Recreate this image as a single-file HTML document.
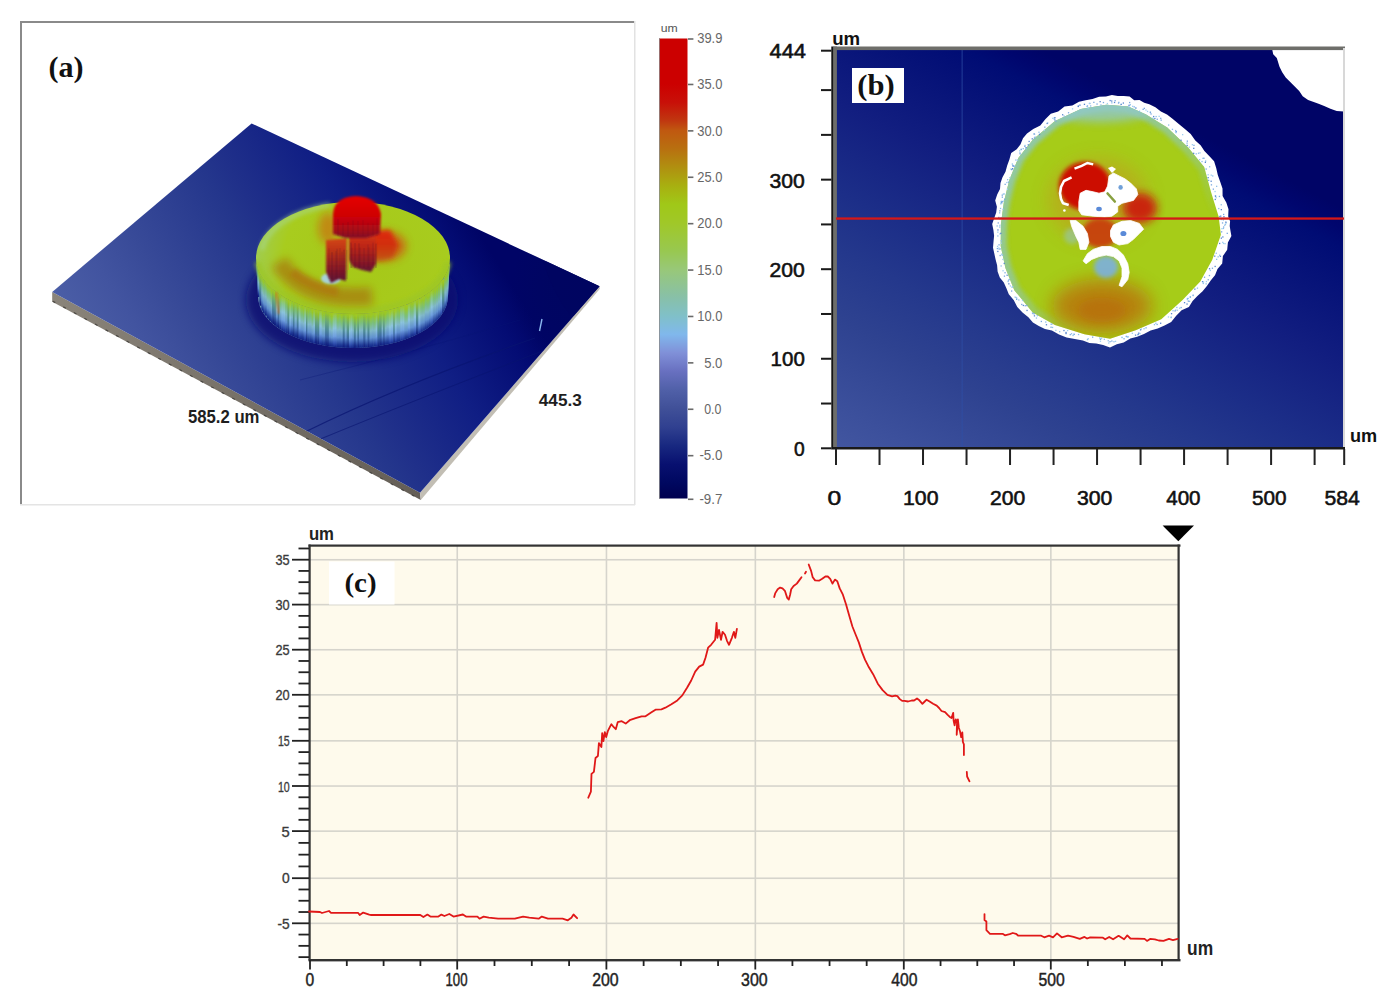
<!DOCTYPE html><html><head><meta charset="utf-8"><style>html,body{margin:0;padding:0;background:#fff;overflow:hidden}svg{display:block}text{font-family:"Liberation Sans",sans-serif}.serif{font-family:"Liberation Serif",serif;font-weight:bold}</style></head><body>
<svg width="1396" height="1007" viewBox="0 0 1396 1007">
<defs>
<linearGradient id="cbar" x1="0" y1="0" x2="0" y2="1"><stop offset="0.0000" stop-color="#cc0000"/><stop offset="0.0988" stop-color="#cc0000"/><stop offset="0.1391" stop-color="#c81008"/><stop offset="0.1794" stop-color="#c03810"/><stop offset="0.1996" stop-color="#c05810"/><stop offset="0.2399" stop-color="#b87010"/><stop offset="0.2802" stop-color="#b09010"/><stop offset="0.3206" stop-color="#a8b010"/><stop offset="0.3609" stop-color="#a0c818"/><stop offset="0.4012" stop-color="#a0c828"/><stop offset="0.4617" stop-color="#98c850"/><stop offset="0.5020" stop-color="#98c878"/><stop offset="0.5625" stop-color="#88c0a8"/><stop offset="0.6028" stop-color="#80c0c8"/><stop offset="0.6431" stop-color="#80b8ec"/><stop offset="0.6835" stop-color="#8090d8"/><stop offset="0.7238" stop-color="#6870c0"/><stop offset="0.7641" stop-color="#5060a8"/><stop offset="0.8044" stop-color="#405098"/><stop offset="0.8448" stop-color="#304090"/><stop offset="0.8851" stop-color="#182880"/><stop offset="0.9254" stop-color="#081070"/><stop offset="0.9657" stop-color="#000860"/><stop offset="1.0000" stop-color="#000050"/></linearGradient>
<filter id="b05" x="-20%" y="-20%" width="140%" height="140%"><feGaussianBlur stdDeviation="0.5"/></filter>
<filter id="b1" x="-20%" y="-20%" width="140%" height="140%"><feGaussianBlur stdDeviation="1"/></filter>
<filter id="b2" x="-30%" y="-30%" width="160%" height="160%"><feGaussianBlur stdDeviation="2.2"/></filter>
<filter id="b4" x="-50%" y="-50%" width="200%" height="200%"><feGaussianBlur stdDeviation="4"/></filter>
<filter id="b6" x="-60%" y="-60%" width="220%" height="220%"><feGaussianBlur stdDeviation="6"/></filter>
<filter id="b8" x="-60%" y="-60%" width="220%" height="220%"><feGaussianBlur stdDeviation="9"/></filter>
<linearGradient id="plate" gradientUnits="userSpaceOnUse" x1="52" y1="292" x2="393" y2="78"><stop offset="0" stop-color="#4b5ea6"/><stop offset="0.13" stop-color="#4254a0"/><stop offset="0.245" stop-color="#384a98"/><stop offset="0.48" stop-color="#24368c"/><stop offset="0.535" stop-color="#20308a"/><stop offset="0.73" stop-color="#101e84"/><stop offset="0.9" stop-color="#040c74"/><stop offset="0.977" stop-color="#000466"/><stop offset="1" stop-color="#000466"/></linearGradient>
<radialGradient id="platedark" gradientUnits="userSpaceOnUse" cx="600" cy="290" r="90"><stop offset="0" stop-color="#000660" stop-opacity="0.9"/><stop offset="0.6" stop-color="#000660" stop-opacity="0.6"/><stop offset="1" stop-color="#000660" stop-opacity="0"/></radialGradient>
<linearGradient id="bbg" gradientUnits="userSpaceOnUse" x1="836" y1="448" x2="1045" y2="51.5"><stop offset="0" stop-color="#4256a0"/><stop offset="0.08" stop-color="#3c509c"/><stop offset="0.26" stop-color="#2e4290"/><stop offset="0.395" stop-color="#24388c"/><stop offset="0.51" stop-color="#1c2e88"/><stop offset="0.685" stop-color="#121e80"/><stop offset="0.92" stop-color="#000c74"/><stop offset="0.96" stop-color="#00066e"/><stop offset="1" stop-color="#000466"/></linearGradient>
<radialGradient id="bbl" gradientUnits="userSpaceOnUse" cx="836" cy="448" r="330"><stop offset="0" stop-color="#3e4ea2" stop-opacity="1"/><stop offset="0.5" stop-color="#2c3c98" stop-opacity="0.6"/><stop offset="1" stop-color="#2c3c98" stop-opacity="0"/></radialGradient>
<linearGradient id="cylside" gradientUnits="userSpaceOnUse" x1="0" y1="250" x2="0" y2="350"><stop offset="0" stop-color="#b2d020"/><stop offset="0.45" stop-color="#b0d440"/><stop offset="0.7" stop-color="#a8d488"/><stop offset="0.88" stop-color="#a0cce0"/><stop offset="1" stop-color="#7090d8"/></linearGradient>
<linearGradient id="streakfade" gradientUnits="userSpaceOnUse" x1="0" y1="262" x2="0" y2="350"><stop offset="0" stop-color="#fff" stop-opacity="0.25"/><stop offset="0.5" stop-color="#fff" stop-opacity="0.5"/><stop offset="1" stop-color="#fff" stop-opacity="1"/></linearGradient>
<mask id="streakmask" maskUnits="userSpaceOnUse" x="240" y="240" width="230" height="120"><rect x="240" y="240" width="230" height="120" fill="url(#streakfade)"/></mask>
<pattern id="streak" width="4" height="120" patternUnits="userSpaceOnUse"><rect x="0" width="1.4" height="120" fill="#ffffff" opacity="0.4"/><rect x="2.2" width="1.2" height="120" fill="#3050b0" opacity="0.28"/></pattern>
<radialGradient id="topface" gradientUnits="userSpaceOnUse" cx="365" cy="265" r="110"><stop offset="0" stop-color="#a6c818"/><stop offset="0.75" stop-color="#a8cc1e"/><stop offset="1" stop-color="#a0cc50"/></radialGradient>
<linearGradient id="tealg" gradientUnits="userSpaceOnUse" x1="1000" y1="110" x2="1200" y2="330"><stop offset="0" stop-color="#fff"/><stop offset="0.45" stop-color="#fff" stop-opacity="0.7"/><stop offset="0.75" stop-color="#fff" stop-opacity="0"/></linearGradient>
<mask id="tealmask"><rect x="980" y="80" width="260" height="280" fill="url(#tealg)"/></mask>
</defs>
<rect x="634" y="21" width="1.5" height="484" fill="#e2e2e2"/>
<rect x="20" y="504" width="615" height="1.5" fill="#e4e4e4"/>
<rect x="20" y="21" width="2" height="483" fill="#8a8a8a"/>
<rect x="20" y="21" width="614" height="2" fill="#8a8a8a"/>
<linearGradient id="lside" gradientUnits="userSpaceOnUse" x1="52" y1="0" x2="420" y2="0"><stop offset="0" stop-color="#8a847a"/><stop offset="1" stop-color="#645e56"/></linearGradient>
<polygon points="52.2,291.9 420,492.8 420.8,500.0 52.2,301.7" fill="url(#lside)"/>
<line x1="52.7" y1="301.2" x2="420.5" y2="499.6" stroke="#3c3a36" stroke-width="1.2" stroke-dasharray="3 9" opacity="0.8"/>
<polygon points="420,492.8 599.5,286.2 599.9,288.8 420.8,500.0" fill="#c2beb4"/>
<polygon points="251.6,123.5 599.5,286.2 420,492.8 52.2,291.9" fill="url(#plate)"/>
<polygon points="251.6,123.5 599.5,286.2 420,492.8 52.2,291.9" fill="url(#platedark)"/>
<clipPath id="plateclip"><polygon points="251.6,123.5 599.5,286.2 420,492.8 52.2,291.9"/></clipPath>
<g clip-path="url(#plateclip)">
<path d="M543,261 Q552,292 571,316 L610,316 L610,250 Z" fill="#000560" opacity="0.55"/>
<path d="M305,432 Q400,385 535,338" stroke="#081470" stroke-width="1.3" fill="none" opacity="0.7"/>
<path d="M318,440 Q420,398 545,350" stroke="#081470" stroke-width="1.1" fill="none" opacity="0.6"/>
<path d="M300,380 Q420,350 520,320" stroke="#0a1674" stroke-width="0.8" fill="none" opacity="0.4"/>
</g>
<path d="M542,319 L539.5,331" stroke="#8ab8f0" stroke-width="1.4"/>
<ellipse cx="352" cy="300" rx="106" ry="62" fill="#081070" opacity="0.8" filter="url(#b4)"/>
<linearGradient id="sgA" x1="0" y1="0" x2="0" y2="1"><stop offset="0" stop-color="#a8cc1c"/><stop offset="0.12" stop-color="#98c828"/><stop offset="0.32" stop-color="#7cc078"/><stop offset="0.52" stop-color="#80b8c8"/><stop offset="0.72" stop-color="#6090d0"/><stop offset="0.9" stop-color="#203c98"/><stop offset="1" stop-color="#0c1a80"/></linearGradient>
<linearGradient id="sgB" x1="0" y1="0" x2="0" y2="1"><stop offset="0" stop-color="#a8cc1c"/><stop offset="0.15" stop-color="#90c030"/><stop offset="0.35" stop-color="#68a878"/><stop offset="0.55" stop-color="#508c98"/><stop offset="0.75" stop-color="#3a64a8"/><stop offset="0.9" stop-color="#182c88"/><stop offset="1" stop-color="#0a1478"/></linearGradient>
<linearGradient id="sgC" x1="0" y1="0" x2="0" y2="1"><stop offset="0" stop-color="#a8cc1c"/><stop offset="0.1" stop-color="#a0cc30"/><stop offset="0.3" stop-color="#88c890"/><stop offset="0.5" stop-color="#8cc4dc"/><stop offset="0.7" stop-color="#70a0e0"/><stop offset="0.88" stop-color="#3050b0"/><stop offset="1" stop-color="#0c1a80"/></linearGradient>
<path d="M256,258 L258,296 A95,52 0 0 0 448,296 L450,258 A97,56 0 0 1 256,258 Z" fill="#6a98b8"/>
<clipPath id="sideclip"><path d="M256,258 L258,296 A95,52 0 0 0 448,296 L450,258 A97,56 0 0 1 256,258 Z"/></clipPath>
<g clip-path="url(#sideclip)">
<rect x="255.5" y="255.0" width="2.7" height="42.0" fill="url(#sgB)"/><rect x="257.8" y="266.6" width="1.9" height="30.4" fill="url(#sgA)"/><rect x="259.3" y="272.1" width="2.4" height="33.6" fill="url(#sgB)"/><rect x="261.3" y="273.4" width="1.8" height="37.2" fill="url(#sgA)"/><rect x="262.7" y="276.3" width="2.0" height="37.0" fill="url(#sgA)"/><rect x="264.4" y="276.4" width="2.6" height="39.3" fill="url(#sgA)"/><rect x="266.6" y="281.4" width="2.4" height="37.3" fill="url(#sgA)"/><rect x="268.6" y="282.6" width="2.4" height="38.3" fill="url(#sgA)"/><rect x="270.6" y="286.9" width="1.8" height="36.0" fill="url(#sgA)"/><rect x="272.1" y="286.6" width="2.2" height="37.7" fill="url(#sgB)"/><rect x="273.9" y="288.8" width="2.4" height="37.0" fill="url(#sgB)"/><rect x="275.8" y="290.1" width="2.4" height="37.2" fill="url(#sgA)"/><rect x="277.8" y="291.9" width="1.9" height="36.8" fill="url(#sgB)"/><rect x="279.3" y="291.9" width="2.4" height="37.9" fill="url(#sgA)"/><rect x="281.3" y="293.1" width="2.6" height="38.1" fill="url(#sgC)"/><rect x="283.5" y="293.3" width="2.2" height="39.1" fill="url(#sgC)"/><rect x="285.3" y="294.3" width="2.5" height="39.2" fill="url(#sgA)"/><rect x="287.4" y="298.6" width="2.3" height="36.0" fill="url(#sgB)"/><rect x="289.3" y="300.1" width="2.1" height="35.4" fill="url(#sgC)"/><rect x="291.0" y="296.9" width="2.3" height="39.5" fill="url(#sgA)"/><rect x="292.9" y="299.4" width="2.0" height="37.9" fill="url(#sgB)"/><rect x="294.5" y="298.0" width="2.8" height="39.9" fill="url(#sgA)"/><rect x="296.8" y="300.4" width="2.1" height="38.5" fill="url(#sgB)"/><rect x="298.6" y="301.6" width="2.4" height="38.0" fill="url(#sgC)"/><rect x="300.5" y="302.5" width="2.7" height="37.9" fill="url(#sgA)"/><rect x="302.9" y="304.5" width="1.9" height="36.7" fill="url(#sgA)"/><rect x="304.3" y="303.4" width="2.1" height="38.3" fill="url(#sgC)"/><rect x="306.0" y="304.3" width="1.8" height="37.9" fill="url(#sgB)"/><rect x="307.4" y="304.9" width="2.4" height="37.7" fill="url(#sgA)"/><rect x="309.5" y="303.7" width="2.6" height="39.5" fill="url(#sgA)"/><rect x="311.6" y="308.2" width="2.2" height="35.6" fill="url(#sgA)"/><rect x="313.4" y="306.4" width="1.9" height="37.9" fill="url(#sgC)"/><rect x="314.9" y="308.6" width="2.7" height="36.0" fill="url(#sgB)"/><rect x="317.2" y="310.0" width="2.5" height="35.2" fill="url(#sgB)"/><rect x="319.3" y="306.3" width="2.8" height="39.4" fill="url(#sgC)"/><rect x="321.7" y="309.3" width="2.0" height="36.8" fill="url(#sgA)"/><rect x="323.2" y="309.2" width="2.3" height="37.1" fill="url(#sgA)"/><rect x="325.1" y="307.4" width="2.1" height="39.3" fill="url(#sgB)"/><rect x="326.8" y="308.5" width="2.4" height="38.5" fill="url(#sgB)"/><rect x="328.8" y="309.8" width="2.5" height="37.5" fill="url(#sgA)"/><rect x="330.9" y="311.9" width="2.3" height="35.7" fill="url(#sgA)"/><rect x="332.7" y="309.7" width="2.2" height="38.1" fill="url(#sgC)"/><rect x="334.5" y="308.3" width="2.4" height="39.7" fill="url(#sgC)"/><rect x="336.6" y="310.4" width="2.8" height="37.8" fill="url(#sgA)"/><rect x="338.9" y="308.7" width="2.1" height="39.8" fill="url(#sgA)"/><rect x="340.7" y="311.2" width="2.4" height="37.3" fill="url(#sgA)"/><rect x="342.7" y="309.0" width="2.4" height="39.7" fill="url(#sgB)"/><rect x="344.7" y="309.5" width="2.4" height="39.3" fill="url(#sgA)"/><rect x="346.7" y="311.9" width="2.8" height="37.0" fill="url(#sgB)"/><rect x="349.0" y="313.2" width="1.9" height="35.8" fill="url(#sgC)"/><rect x="350.6" y="310.5" width="2.3" height="38.4" fill="url(#sgC)"/><rect x="352.4" y="310.7" width="1.9" height="38.3" fill="url(#sgA)"/><rect x="353.9" y="312.5" width="2.3" height="36.5" fill="url(#sgB)"/><rect x="355.8" y="313.7" width="2.0" height="35.2" fill="url(#sgA)"/><rect x="357.4" y="311.7" width="1.9" height="37.3" fill="url(#sgB)"/><rect x="359.0" y="310.4" width="2.6" height="38.5" fill="url(#sgA)"/><rect x="361.1" y="310.1" width="2.5" height="38.7" fill="url(#sgA)"/><rect x="363.2" y="310.5" width="2.7" height="38.2" fill="url(#sgB)"/><rect x="365.5" y="312.4" width="2.3" height="36.1" fill="url(#sgA)"/><rect x="367.5" y="311.4" width="2.4" height="37.0" fill="url(#sgB)"/><rect x="369.5" y="312.3" width="2.6" height="35.9" fill="url(#sgA)"/><rect x="371.7" y="310.4" width="2.0" height="37.6" fill="url(#sgA)"/><rect x="373.3" y="311.7" width="2.8" height="36.1" fill="url(#sgA)"/><rect x="375.7" y="310.9" width="2.1" height="36.6" fill="url(#sgC)"/><rect x="377.4" y="311.9" width="2.2" height="35.4" fill="url(#sgB)"/><rect x="379.2" y="308.7" width="2.8" height="38.2" fill="url(#sgB)"/><rect x="381.6" y="308.9" width="1.9" height="37.7" fill="url(#sgA)"/><rect x="383.1" y="309.4" width="2.0" height="37.0" fill="url(#sgB)"/><rect x="384.7" y="309.2" width="2.3" height="36.8" fill="url(#sgA)"/><rect x="386.5" y="306.1" width="2.6" height="39.5" fill="url(#sgA)"/><rect x="388.8" y="308.8" width="2.6" height="36.4" fill="url(#sgC)"/><rect x="391.0" y="306.7" width="2.7" height="38.0" fill="url(#sgC)"/><rect x="393.3" y="308.7" width="1.9" height="35.4" fill="url(#sgB)"/><rect x="394.7" y="307.3" width="2.3" height="36.4" fill="url(#sgC)"/><rect x="396.6" y="303.9" width="2.5" height="39.3" fill="url(#sgA)"/><rect x="398.7" y="305.3" width="1.8" height="37.2" fill="url(#sgA)"/><rect x="400.2" y="302.7" width="2.6" height="39.5" fill="url(#sgC)"/><rect x="402.4" y="303.0" width="2.5" height="38.5" fill="url(#sgC)"/><rect x="404.4" y="304.5" width="1.8" height="36.2" fill="url(#sgA)"/><rect x="405.8" y="304.6" width="2.3" height="35.6" fill="url(#sgA)"/><rect x="407.8" y="300.2" width="2.8" height="39.3" fill="url(#sgC)"/><rect x="410.2" y="299.3" width="1.8" height="39.2" fill="url(#sgA)"/><rect x="411.6" y="299.3" width="2.6" height="38.7" fill="url(#sgA)"/><rect x="413.7" y="297.0" width="2.6" height="40.0" fill="url(#sgC)"/><rect x="416.0" y="298.9" width="2.7" height="37.0" fill="url(#sgB)"/><rect x="418.3" y="298.8" width="2.6" height="36.0" fill="url(#sgC)"/><rect x="420.5" y="295.8" width="2.3" height="37.8" fill="url(#sgA)"/><rect x="422.4" y="296.0" width="2.7" height="36.5" fill="url(#sgA)"/><rect x="424.7" y="291.5" width="2.6" height="39.6" fill="url(#sgA)"/><rect x="426.9" y="292.9" width="2.3" height="36.8" fill="url(#sgA)"/><rect x="428.8" y="290.6" width="2.1" height="37.8" fill="url(#sgA)"/><rect x="430.5" y="287.2" width="2.6" height="39.9" fill="url(#sgC)"/><rect x="432.7" y="286.3" width="2.0" height="39.0" fill="url(#sgA)"/><rect x="434.3" y="286.3" width="2.3" height="37.5" fill="url(#sgA)"/><rect x="436.2" y="284.8" width="2.2" height="37.2" fill="url(#sgA)"/><rect x="438.1" y="282.2" width="2.5" height="38.0" fill="url(#sgA)"/><rect x="440.2" y="278.8" width="2.3" height="38.9" fill="url(#sgC)"/><rect x="442.1" y="279.6" width="2.7" height="35.4" fill="url(#sgB)"/><rect x="444.4" y="272.5" width="2.6" height="38.7" fill="url(#sgA)"/><rect x="446.6" y="269.2" width="2.2" height="36.6" fill="url(#sgA)"/><rect x="448.4" y="264.1" width="2.2" height="32.9" fill="url(#sgA)"/>
</g>
<ellipse cx="353" cy="258" rx="97" ry="56" fill="url(#topface)"/>
<path d="M258,262 A95.5,55 0 0 0 448,262" stroke="#9cc628" stroke-width="6" fill="none" filter="url(#b2)" opacity="0.85"/>
<path d="M262,250 A95,52 0 0 1 330,205" stroke="#a8d890" stroke-width="5" fill="none" filter="url(#b2)" opacity="0.6"/>
<path d="M279,262 Q296,288 330,295 Q352,298 372,296" stroke="#a87a10" stroke-width="18" fill="none" opacity="0.75" filter="url(#b4)"/>
<path d="M292,272 Q312,287 338,292" stroke="#b07010" stroke-width="9" fill="none" opacity="0.6" filter="url(#b2)"/>
<path d="M276,292 L279,314" stroke="#d06020" stroke-width="3" opacity="0.5" filter="url(#b1)"/>
<linearGradient id="gpL" gradientUnits="userSpaceOnUse" x1="0" y1="236" x2="0" y2="283"><stop offset="0" stop-color="#d84a10"/><stop offset="0.35" stop-color="#b83018"/><stop offset="0.75" stop-color="#801828"/><stop offset="1" stop-color="#581038"/></linearGradient>
<linearGradient id="gpM" gradientUnits="userSpaceOnUse" x1="0" y1="232" x2="0" y2="273"><stop offset="0" stop-color="#d83810"/><stop offset="0.4" stop-color="#b82418"/><stop offset="0.8" stop-color="#801828"/><stop offset="1" stop-color="#581038"/></linearGradient>
<linearGradient id="gpT" gradientUnits="userSpaceOnUse" x1="0" y1="197" x2="0" y2="238"><stop offset="0" stop-color="#e40000"/><stop offset="0.45" stop-color="#d00404"/><stop offset="0.8" stop-color="#a80818"/><stop offset="1" stop-color="#801028"/></linearGradient>
<linearGradient id="gpR" gradientUnits="userSpaceOnUse" x1="0" y1="229" x2="0" y2="262"><stop offset="0" stop-color="#e02808"/><stop offset="0.5" stop-color="#d03010"/><stop offset="1" stop-color="#c04818" stop-opacity="0.6"/></linearGradient>
<ellipse cx="384" cy="246" rx="22" ry="15" fill="#d84010" opacity="0.7" filter="url(#b4)"/>
<ellipse cx="328" cy="228" rx="10" ry="16" fill="#d06010" opacity="0.6" filter="url(#b4)"/>
<path d="M366,232 L390,230 L398,245 L393,258 L378,262 L368,258 Z" fill="url(#gpR)" filter="url(#b2)"/>
<ellipse cx="331" cy="278.5" rx="10" ry="5.5" fill="#a8d4ec" opacity="0.9" filter="url(#b1)"/>
<path d="M326,240 L347,238 L346,281 L339,279 L331,283 L326,272 Z" fill="url(#gpL)" filter="url(#b1)"/>
<path d="M349,234 L376,232 L376,264 L371,272 L362,270 L353,267 L349,260 Z" fill="url(#gpM)" filter="url(#b1)"/>
<path d="M333,214 Q334,197 356,196 Q378,197 381,214 L380,234 L366,238 L345,238 L333,234 Z" fill="url(#gpT)" filter="url(#b1)"/>
<line x1="329" y1="248.4" x2="329" y2="279" stroke="#500c28" stroke-width="1" opacity="0.17"/><line x1="332" y1="252.2" x2="332" y2="279" stroke="#500c28" stroke-width="1" opacity="0.34"/><line x1="336" y1="251.1" x2="336" y2="279" stroke="#500c28" stroke-width="1" opacity="0.22"/><line x1="340" y1="248.0" x2="340" y2="279" stroke="#500c28" stroke-width="1" opacity="0.18"/><line x1="344" y1="249.7" x2="344" y2="279" stroke="#500c28" stroke-width="1" opacity="0.30"/><line x1="351" y1="242.6" x2="351" y2="268" stroke="#500c28" stroke-width="1" opacity="0.33"/><line x1="355" y1="243.0" x2="355" y2="268" stroke="#500c28" stroke-width="1" opacity="0.28"/><line x1="359" y1="243.3" x2="359" y2="268" stroke="#500c28" stroke-width="1" opacity="0.29"/><line x1="364" y1="248.0" x2="364" y2="268" stroke="#500c28" stroke-width="1" opacity="0.23"/><line x1="368" y1="244.5" x2="368" y2="268" stroke="#500c28" stroke-width="1" opacity="0.22"/><line x1="373" y1="242.6" x2="373" y2="268" stroke="#500c28" stroke-width="1" opacity="0.22"/><line x1="337" y1="248.7" x2="337" y2="279" stroke="#500c28" stroke-width="1" opacity="0.24"/><line x1="342" y1="251.6" x2="342" y2="279" stroke="#500c28" stroke-width="1" opacity="0.23"/><line x1="347" y1="250.1" x2="347" y2="279" stroke="#500c28" stroke-width="1" opacity="0.21"/><line x1="352" y1="247.8" x2="352" y2="268" stroke="#500c28" stroke-width="1" opacity="0.17"/><line x1="360" y1="247.5" x2="360" y2="268" stroke="#500c28" stroke-width="1" opacity="0.20"/><line x1="369" y1="247.3" x2="369" y2="268" stroke="#500c28" stroke-width="1" opacity="0.17"/><line x1="376" y1="243.6" x2="376" y2="268" stroke="#500c28" stroke-width="1" opacity="0.33"/><line x1="338" y1="219.1" x2="338" y2="236" stroke="#600820" stroke-width="1" opacity="0.26"/><line x1="343" y1="222.9" x2="343" y2="236" stroke="#600820" stroke-width="1" opacity="0.28"/><line x1="348" y1="222.1" x2="348" y2="236" stroke="#600820" stroke-width="1" opacity="0.29"/><line x1="353" y1="220.4" x2="353" y2="236" stroke="#600820" stroke-width="1" opacity="0.23"/><line x1="358" y1="221.1" x2="358" y2="236" stroke="#600820" stroke-width="1" opacity="0.22"/><line x1="363" y1="220.0" x2="363" y2="236" stroke="#600820" stroke-width="1" opacity="0.19"/><line x1="368" y1="222.8" x2="368" y2="236" stroke="#600820" stroke-width="1" opacity="0.18"/><line x1="373" y1="223.4" x2="373" y2="236" stroke="#600820" stroke-width="1" opacity="0.19"/><line x1="377" y1="218.1" x2="377" y2="236" stroke="#600820" stroke-width="1" opacity="0.16"/>
<rect x="347.2" y="240" width="1.6" height="30" fill="#e07030" opacity="0.5"/>
<text class="lbl" x="187.90" y="422.50" font-size="19.04" font-weight="bold" fill="#1e1e1e" textLength="71.60" lengthAdjust="spacingAndGlyphs" >585.2 um</text>
<text class="lbl" x="538.80" y="406.00" font-size="15.62" font-weight="bold" fill="#1e1e1e" textLength="43.00" lengthAdjust="spacingAndGlyphs" >445.3</text>
<text class="lbl serif" x="48.50" y="76.60" font-size="28.72" fill="#111" textLength="35.10" lengthAdjust="spacingAndGlyphs" >(a)</text>
<rect x="659.5" y="38.5" width="28" height="460" fill="url(#cbar)"/>
<rect x="659" y="38" width="1" height="461" fill="#666" opacity="0.6"/>
<text class="lbl" x="660.80" y="32.40" font-size="11.36" font-weight="normal" fill="#555" textLength="17.00" lengthAdjust="spacingAndGlyphs" >um</text>
<rect x="688" y="38.20" width="5.4" height="1.6" fill="#6a6a6a"/>
<text class="lbl" x="697.20" y="43.20" font-size="14.33" font-weight="normal" fill="#676767" textLength="25.20" lengthAdjust="spacingAndGlyphs" >39.9</text>
<rect x="688" y="83.67" width="5.4" height="1.6" fill="#6a6a6a"/>
<text class="lbl" x="697.20" y="89.34" font-size="14.33" font-weight="normal" fill="#676767" textLength="25.20" lengthAdjust="spacingAndGlyphs" >35.0</text>
<rect x="688" y="130.07" width="5.4" height="1.6" fill="#6a6a6a"/>
<text class="lbl" x="697.20" y="135.54" font-size="14.33" font-weight="normal" fill="#676767" textLength="25.20" lengthAdjust="spacingAndGlyphs" >30.0</text>
<rect x="688" y="176.47" width="5.4" height="1.6" fill="#6a6a6a"/>
<text class="lbl" x="697.20" y="181.74" font-size="14.33" font-weight="normal" fill="#676767" textLength="25.20" lengthAdjust="spacingAndGlyphs" >25.0</text>
<rect x="688" y="222.87" width="5.4" height="1.6" fill="#6a6a6a"/>
<text class="lbl" x="697.20" y="227.94" font-size="14.33" font-weight="normal" fill="#676767" textLength="25.20" lengthAdjust="spacingAndGlyphs" >20.0</text>
<rect x="688" y="269.27" width="5.4" height="1.6" fill="#6a6a6a"/>
<text class="lbl" x="697.20" y="275.14" font-size="14.33" font-weight="normal" fill="#676767" textLength="25.20" lengthAdjust="spacingAndGlyphs" >15.0</text>
<rect x="688" y="315.67" width="5.4" height="1.6" fill="#6a6a6a"/>
<text class="lbl" x="697.20" y="321.34" font-size="14.33" font-weight="normal" fill="#676767" textLength="25.20" lengthAdjust="spacingAndGlyphs" >10.0</text>
<rect x="688" y="362.07" width="5.4" height="1.6" fill="#6a6a6a"/>
<text class="lbl" x="704.20" y="367.54" font-size="14.33" font-weight="normal" fill="#676767" textLength="18.20" lengthAdjust="spacingAndGlyphs" >5.0</text>
<rect x="688" y="408.47" width="5.4" height="1.6" fill="#6a6a6a"/>
<text class="lbl" x="704.20" y="413.74" font-size="14.33" font-weight="normal" fill="#676767" textLength="17.20" lengthAdjust="spacingAndGlyphs" >0.0</text>
<rect x="688" y="454.87" width="5.4" height="1.6" fill="#6a6a6a"/>
<text class="lbl" x="699.40" y="459.94" font-size="14.33" font-weight="normal" fill="#676767" textLength="23.00" lengthAdjust="spacingAndGlyphs" >-5.0</text>
<rect x="688" y="498.49" width="5.4" height="1.6" fill="#6a6a6a"/>
<text class="lbl" x="699.40" y="503.94" font-size="14.33" font-weight="normal" fill="#676767" textLength="23.00" lengthAdjust="spacingAndGlyphs" >-9.7</text>
<rect x="836" y="48" width="508" height="400" fill="url(#bbg)"/>
<rect x="961.5" y="48" width="1.3" height="400" fill="#3050a8" opacity="0.55"/>
<path d="M1271.9,48 L1344,48 L1344,111.5 L1336.7,111 L1330.4,108.8 L1324.2,106.1 L1317.9,103.4 L1308.1,99.9 L1302.7,96.3 L1299.2,90.9 L1292,83.8 L1285.7,77.5 L1282.2,72.2 L1279.5,66.8 L1276.8,57.9 L1273.2,54.3 Z" fill="#fff"/>
<polygon points="1106.0,96.4 1099.1,96.8 1092.5,99.1 1085.7,100.2 1079.0,101.8 1072.3,105.5 1064.5,106.6 1058.2,111.4 1050.8,113.7 1045.3,119.2 1040.3,125.4 1033.3,128.9 1027.0,133.4 1023.0,138.2 1020.4,144.4 1016.7,149.3 1011.2,153.1 1009.4,159.4 1007.2,165.4 1005.5,171.7 1002.5,177.3 1000.5,182.9 1000.0,189.1 997.2,194.6 995.2,200.5 996.9,206.7 996.2,212.5 994.2,218.2 992.2,224.1 993.4,230.0 994.1,235.8 993.5,241.7 993.0,247.7 994.3,253.6 995.6,259.5 997.1,265.3 997.6,271.5 999.8,277.5 1003.8,282.6 1006.4,288.3 1008.8,294.2 1013.7,300.0 1017.3,307.0 1022.5,312.6 1028.4,317.3 1032.9,322.4 1038.8,325.9 1045.0,329.0 1051.9,330.6 1059.0,334.4 1066.6,337.5 1074.8,338.9 1082.9,340.4 1089.4,343.1 1096.3,343.5 1103.1,345.0 1110.0,347.4 1116.8,344.3 1123.7,342.4 1130.3,338.6 1137.1,336.8 1144.0,334.1 1150.6,330.5 1157.7,328.5 1164.5,325.5 1171.2,322.1 1176.2,315.7 1181.6,310.2 1188.9,307.0 1192.6,300.9 1197.4,296.0 1202.6,291.3 1206.9,286.1 1210.7,280.6 1215.0,275.2 1217.5,268.9 1222.2,263.6 1222.9,256.1 1227.2,249.8 1227.9,242.6 1231.4,235.9 1230.5,231.0 1229.7,226.1 1230.1,221.2 1228.2,216.4 1228.5,209.3 1226.3,202.4 1222.6,196.0 1222.5,188.6 1220.2,181.8 1217.8,175.1 1216.2,168.0 1214.1,161.2 1209.2,156.1 1204.4,151.1 1200.6,145.2 1195.3,140.6 1190.7,134.0 1184.6,128.8 1178.5,123.8 1172.5,118.7 1167.0,114.6 1160.9,111.6 1155.4,107.2 1149.3,104.2 1144.2,102.7 1139.5,100.1 1134.2,100.2 1129.6,96.5 1123.7,95.9 1117.8,95.9 1111.9,94.9" fill="#fff"/>
<clipPath id="ringclip"><polygon points="1106.4,104.8 1080.9,108.9 1055.0,121.1 1033.0,139.6 1018.3,157.9 1009.3,180.0 1003.9,202.1 1000.9,224.0 1000.7,246.0 1005.4,268.1 1014.3,290.3 1032.7,312.4 1054.9,325.1 1084.4,334.2 1110.1,338.7 1135.7,330.3 1161.3,319.2 1182.6,300.1 1200.3,281.6 1212.3,259.8 1220.9,234.7 1218.7,216.8 1211.0,192.1 1204.2,167.1 1188.2,147.6 1167.3,127.6 1146.1,114.4 1128.2,106.5"/></clipPath>
<polygon points="1106.4,104.8 1080.9,108.9 1055.0,121.1 1033.0,139.6 1018.3,157.9 1009.3,180.0 1003.9,202.1 1000.9,224.0 1000.7,246.0 1005.4,268.1 1014.3,290.3 1032.7,312.4 1054.9,325.1 1084.4,334.2 1110.1,338.7 1135.7,330.3 1161.3,319.2 1182.6,300.1 1200.3,281.6 1212.3,259.8 1220.9,234.7 1218.7,216.8 1211.0,192.1 1204.2,167.1 1188.2,147.6 1167.3,127.6 1146.1,114.4 1128.2,106.5" fill="#a6cc18"/>
<g clip-path="url(#ringclip)">
<polygon points="1106.4,104.8 1080.9,108.9 1055.0,121.1 1033.0,139.6 1018.3,157.9 1009.3,180.0 1003.9,202.1 1000.9,224.0 1000.7,246.0 1005.4,268.1 1014.3,290.3 1032.7,312.4 1054.9,325.1 1084.4,334.2 1110.1,338.7 1135.7,330.3 1161.3,319.2 1182.6,300.1 1200.3,281.6 1212.3,259.8 1220.9,234.7 1218.7,216.8 1211.0,192.1 1204.2,167.1 1188.2,147.6 1167.3,127.6 1146.1,114.4 1128.2,106.5" fill="none" stroke="#8cc8c8" stroke-width="12" filter="url(#b2)" opacity="0.9" mask="url(#tealmask)"/>
<ellipse cx="1100" cy="108" rx="55" ry="14" fill="#90c8c8" opacity="0.8" filter="url(#b4)"/>
<ellipse cx="1102" cy="306" rx="50" ry="27" fill="#b87a0e" opacity="0.9" filter="url(#b8)"/>
<ellipse cx="1102" cy="310" rx="24" ry="12" fill="#b86a10" opacity="0.6" filter="url(#b4)"/>
<ellipse cx="1098" cy="200" rx="50" ry="42" fill="#c89020" opacity="0.45" filter="url(#b8)"/>
<ellipse cx="1085" cy="186" rx="26" ry="24" fill="#cc0800" filter="url(#b2)"/>
<ellipse cx="1140" cy="208" rx="17" ry="15" fill="#cc1808" opacity="0.9" filter="url(#b4)"/>
<ellipse cx="1100" cy="233" rx="18" ry="15" fill="#c84010" opacity="0.95" filter="url(#b2)"/>
</g>
<rect x="1089.2" y="102.8" width="1.3" height="1.3" fill="#7aa8e0"/><rect x="1102.8" y="101.9" width="1.3" height="1.3" fill="#7aa8e0"/><rect x="1096.4" y="103.4" width="1.3" height="1.3" fill="#7aa8e0"/><rect x="1090.0" y="105.3" width="1.3" height="1.3" fill="#90c0e8"/><rect x="1093.2" y="101.7" width="1.3" height="1.3" fill="#7aa8e0"/><rect x="1086.8" y="105.3" width="1.3" height="1.3" fill="#7aa8e0"/><rect x="1088.7" y="102.8" width="1.3" height="1.3" fill="#a0d0f0"/><rect x="1099.5" y="101.0" width="1.3" height="1.3" fill="#5a88d0"/><rect x="1100.3" y="104.3" width="1.3" height="1.3" fill="#90c0e8"/><rect x="1087.5" y="107.5" width="1.3" height="1.3" fill="#a0d0f0"/><rect x="1083.8" y="103.7" width="1.3" height="1.3" fill="#5a88d0"/><rect x="1086.4" y="105.9" width="1.3" height="1.3" fill="#90c0e8"/><rect x="1077.7" y="105.8" width="1.3" height="1.3" fill="#5a88d0"/><rect x="1063.4" y="115.4" width="1.3" height="1.3" fill="#90c0e8"/><rect x="1079.3" y="104.5" width="1.3" height="1.3" fill="#5a88d0"/><rect x="1053.7" y="117.2" width="1.3" height="1.3" fill="#90c0e8"/><rect x="1062.0" y="114.1" width="1.3" height="1.3" fill="#5a88d0"/><rect x="1067.9" y="112.1" width="1.3" height="1.3" fill="#7aa8e0"/><rect x="1054.1" y="119.2" width="1.3" height="1.3" fill="#5a88d0"/><rect x="1055.3" y="120.4" width="1.3" height="1.3" fill="#7aa8e0"/><rect x="1071.9" y="108.2" width="1.3" height="1.3" fill="#a0d0f0"/><rect x="1053.7" y="118.6" width="1.3" height="1.3" fill="#90c0e8"/><rect x="1077.7" y="105.5" width="1.3" height="1.3" fill="#5a88d0"/><rect x="1054.3" y="117.1" width="1.3" height="1.3" fill="#5a88d0"/><rect x="1034.5" y="136.4" width="1.3" height="1.3" fill="#90c0e8"/><rect x="1043.6" y="129.7" width="1.3" height="1.3" fill="#a0d0f0"/><rect x="1052.2" y="117.7" width="1.3" height="1.3" fill="#a0d0f0"/><rect x="1038.3" y="131.6" width="1.3" height="1.3" fill="#90c0e8"/><rect x="1044.2" y="126.5" width="1.3" height="1.3" fill="#7aa8e0"/><rect x="1033.5" y="133.3" width="1.3" height="1.3" fill="#5a88d0"/><rect x="1033.9" y="133.7" width="1.3" height="1.3" fill="#90c0e8"/><rect x="1038.9" y="133.8" width="1.3" height="1.3" fill="#5a88d0"/><rect x="1047.1" y="122.3" width="1.3" height="1.3" fill="#a0d0f0"/><rect x="1031.6" y="138.2" width="1.3" height="1.3" fill="#5a88d0"/><rect x="1033.8" y="137.3" width="1.3" height="1.3" fill="#7aa8e0"/><rect x="1046.5" y="122.8" width="1.3" height="1.3" fill="#5a88d0"/><rect x="1020.7" y="148.8" width="1.3" height="1.3" fill="#5a88d0"/><rect x="1024.2" y="145.5" width="1.3" height="1.3" fill="#5a88d0"/><rect x="1019.3" y="152.4" width="1.3" height="1.3" fill="#7aa8e0"/><rect x="1019.6" y="153.4" width="1.3" height="1.3" fill="#90c0e8"/><rect x="1019.0" y="150.2" width="1.3" height="1.3" fill="#a0d0f0"/><rect x="1025.4" y="147.0" width="1.3" height="1.3" fill="#5a88d0"/><rect x="1025.4" y="148.1" width="1.3" height="1.3" fill="#90c0e8"/><rect x="1028.5" y="140.8" width="1.3" height="1.3" fill="#5a88d0"/><rect x="1027.6" y="144.2" width="1.3" height="1.3" fill="#5a88d0"/><rect x="1024.4" y="144.8" width="1.3" height="1.3" fill="#a0d0f0"/><rect x="1022.6" y="148.0" width="1.3" height="1.3" fill="#90c0e8"/><rect x="1020.3" y="148.8" width="1.3" height="1.3" fill="#a0d0f0"/><rect x="1011.1" y="168.9" width="1.3" height="1.3" fill="#5a88d0"/><rect x="1007.0" y="179.0" width="1.3" height="1.3" fill="#90c0e8"/><rect x="1010.3" y="168.4" width="1.3" height="1.3" fill="#90c0e8"/><rect x="1011.7" y="163.4" width="1.3" height="1.3" fill="#90c0e8"/><rect x="1014.1" y="165.6" width="1.3" height="1.3" fill="#90c0e8"/><rect x="1009.2" y="177.0" width="1.3" height="1.3" fill="#a0d0f0"/><rect x="1013.7" y="165.7" width="1.3" height="1.3" fill="#90c0e8"/><rect x="1012.3" y="164.8" width="1.3" height="1.3" fill="#7aa8e0"/><rect x="1012.0" y="168.0" width="1.3" height="1.3" fill="#5a88d0"/><rect x="1015.2" y="159.4" width="1.3" height="1.3" fill="#90c0e8"/><rect x="1016.9" y="159.6" width="1.3" height="1.3" fill="#a0d0f0"/><rect x="1012.5" y="165.5" width="1.3" height="1.3" fill="#5a88d0"/><rect x="1004.0" y="198.6" width="1.3" height="1.3" fill="#7aa8e0"/><rect x="1006.1" y="181.9" width="1.3" height="1.3" fill="#a0d0f0"/><rect x="1001.7" y="200.9" width="1.3" height="1.3" fill="#7aa8e0"/><rect x="1006.7" y="188.5" width="1.3" height="1.3" fill="#a0d0f0"/><rect x="1000.7" y="200.8" width="1.3" height="1.3" fill="#7aa8e0"/><rect x="1004.5" y="183.7" width="1.3" height="1.3" fill="#7aa8e0"/><rect x="1002.8" y="200.5" width="1.3" height="1.3" fill="#a0d0f0"/><rect x="1007.8" y="181.5" width="1.3" height="1.3" fill="#7aa8e0"/><rect x="1001.7" y="196.5" width="1.3" height="1.3" fill="#7aa8e0"/><rect x="1002.7" y="193.4" width="1.3" height="1.3" fill="#90c0e8"/><rect x="1003.8" y="193.3" width="1.3" height="1.3" fill="#a0d0f0"/><rect x="1001.6" y="194.5" width="1.3" height="1.3" fill="#7aa8e0"/><rect x="1002.5" y="208.6" width="1.3" height="1.3" fill="#90c0e8"/><rect x="999.2" y="210.2" width="1.3" height="1.3" fill="#7aa8e0"/><rect x="1000.7" y="201.7" width="1.3" height="1.3" fill="#a0d0f0"/><rect x="999.9" y="207.8" width="1.3" height="1.3" fill="#90c0e8"/><rect x="999.0" y="212.2" width="1.3" height="1.3" fill="#90c0e8"/><rect x="1001.1" y="202.2" width="1.3" height="1.3" fill="#5a88d0"/><rect x="1000.1" y="202.6" width="1.3" height="1.3" fill="#a0d0f0"/><rect x="1000.2" y="203.3" width="1.3" height="1.3" fill="#a0d0f0"/><rect x="997.6" y="222.3" width="1.3" height="1.3" fill="#7aa8e0"/><rect x="1000.4" y="217.2" width="1.3" height="1.3" fill="#5a88d0"/><rect x="998.2" y="216.8" width="1.3" height="1.3" fill="#5a88d0"/><rect x="999.3" y="218.2" width="1.3" height="1.3" fill="#90c0e8"/><rect x="997.2" y="235.3" width="1.3" height="1.3" fill="#90c0e8"/><rect x="997.3" y="229.3" width="1.3" height="1.3" fill="#5a88d0"/><rect x="999.1" y="226.4" width="1.3" height="1.3" fill="#90c0e8"/><rect x="998.4" y="244.2" width="1.3" height="1.3" fill="#7aa8e0"/><rect x="996.9" y="245.7" width="1.3" height="1.3" fill="#a0d0f0"/><rect x="996.5" y="225.3" width="1.3" height="1.3" fill="#90c0e8"/><rect x="999.4" y="233.3" width="1.3" height="1.3" fill="#90c0e8"/><rect x="1000.2" y="232.7" width="1.3" height="1.3" fill="#5a88d0"/><rect x="1000.5" y="240.2" width="1.3" height="1.3" fill="#90c0e8"/><rect x="997.2" y="231.5" width="1.3" height="1.3" fill="#a0d0f0"/><rect x="999.2" y="224.7" width="1.3" height="1.3" fill="#a0d0f0"/><rect x="1000.5" y="242.5" width="1.3" height="1.3" fill="#a0d0f0"/><rect x="997.2" y="250.8" width="1.3" height="1.3" fill="#5a88d0"/><rect x="998.5" y="248.4" width="1.3" height="1.3" fill="#7aa8e0"/><rect x="1002.2" y="258.8" width="1.3" height="1.3" fill="#a0d0f0"/><rect x="1001.4" y="254.2" width="1.3" height="1.3" fill="#a0d0f0"/><rect x="999.7" y="248.3" width="1.3" height="1.3" fill="#90c0e8"/><rect x="1001.9" y="254.4" width="1.3" height="1.3" fill="#90c0e8"/><rect x="1000.9" y="253.5" width="1.3" height="1.3" fill="#a0d0f0"/><rect x="998.2" y="247.3" width="1.3" height="1.3" fill="#a0d0f0"/><rect x="996.7" y="247.9" width="1.3" height="1.3" fill="#7aa8e0"/><rect x="1000.5" y="265.3" width="1.3" height="1.3" fill="#90c0e8"/><rect x="1003.6" y="262.8" width="1.3" height="1.3" fill="#5a88d0"/><rect x="999.5" y="254.9" width="1.3" height="1.3" fill="#7aa8e0"/><rect x="1006.5" y="274.6" width="1.3" height="1.3" fill="#5a88d0"/><rect x="1011.0" y="290.4" width="1.3" height="1.3" fill="#7aa8e0"/><rect x="1002.4" y="270.1" width="1.3" height="1.3" fill="#a0d0f0"/><rect x="1009.7" y="285.3" width="1.3" height="1.3" fill="#a0d0f0"/><rect x="1012.0" y="286.0" width="1.3" height="1.3" fill="#a0d0f0"/><rect x="1004.4" y="272.1" width="1.3" height="1.3" fill="#7aa8e0"/><rect x="1011.4" y="286.6" width="1.3" height="1.3" fill="#90c0e8"/><rect x="1008.2" y="283.2" width="1.3" height="1.3" fill="#5a88d0"/><rect x="1008.5" y="278.9" width="1.3" height="1.3" fill="#7aa8e0"/><rect x="1007.5" y="280.9" width="1.3" height="1.3" fill="#90c0e8"/><rect x="1003.8" y="275.5" width="1.3" height="1.3" fill="#7aa8e0"/><rect x="1007.8" y="279.9" width="1.3" height="1.3" fill="#90c0e8"/><rect x="1031.9" y="312.5" width="1.3" height="1.3" fill="#7aa8e0"/><rect x="1016.0" y="298.7" width="1.3" height="1.3" fill="#7aa8e0"/><rect x="1021.9" y="299.8" width="1.3" height="1.3" fill="#a0d0f0"/><rect x="1014.4" y="296.5" width="1.3" height="1.3" fill="#a0d0f0"/><rect x="1024.6" y="305.1" width="1.3" height="1.3" fill="#7aa8e0"/><rect x="1026.4" y="309.8" width="1.3" height="1.3" fill="#5a88d0"/><rect x="1022.7" y="304.8" width="1.3" height="1.3" fill="#5a88d0"/><rect x="1015.3" y="296.8" width="1.3" height="1.3" fill="#90c0e8"/><rect x="1016.1" y="297.5" width="1.3" height="1.3" fill="#90c0e8"/><rect x="1018.2" y="299.3" width="1.3" height="1.3" fill="#90c0e8"/><rect x="1021.1" y="303.8" width="1.3" height="1.3" fill="#7aa8e0"/><rect x="1026.2" y="304.9" width="1.3" height="1.3" fill="#7aa8e0"/><rect x="1032.4" y="313.0" width="1.3" height="1.3" fill="#90c0e8"/><rect x="1051.1" y="323.6" width="1.3" height="1.3" fill="#7aa8e0"/><rect x="1050.4" y="326.6" width="1.3" height="1.3" fill="#7aa8e0"/><rect x="1036.7" y="315.0" width="1.3" height="1.3" fill="#90c0e8"/><rect x="1051.9" y="326.8" width="1.3" height="1.3" fill="#90c0e8"/><rect x="1040.7" y="320.8" width="1.3" height="1.3" fill="#7aa8e0"/><rect x="1033.8" y="315.2" width="1.3" height="1.3" fill="#5a88d0"/><rect x="1035.8" y="317.4" width="1.3" height="1.3" fill="#90c0e8"/><rect x="1033.6" y="313.1" width="1.3" height="1.3" fill="#7aa8e0"/><rect x="1045.1" y="321.4" width="1.3" height="1.3" fill="#90c0e8"/><rect x="1050.3" y="323.6" width="1.3" height="1.3" fill="#a0d0f0"/><rect x="1045.8" y="324.1" width="1.3" height="1.3" fill="#5a88d0"/><rect x="1055.2" y="329.7" width="1.3" height="1.3" fill="#a0d0f0"/><rect x="1069.6" y="334.0" width="1.3" height="1.3" fill="#7aa8e0"/><rect x="1077.9" y="333.9" width="1.3" height="1.3" fill="#90c0e8"/><rect x="1072.4" y="334.8" width="1.3" height="1.3" fill="#90c0e8"/><rect x="1065.4" y="331.8" width="1.3" height="1.3" fill="#5a88d0"/><rect x="1073.7" y="333.7" width="1.3" height="1.3" fill="#7aa8e0"/><rect x="1063.3" y="329.9" width="1.3" height="1.3" fill="#5a88d0"/><rect x="1065.4" y="332.9" width="1.3" height="1.3" fill="#5a88d0"/><rect x="1073.0" y="333.6" width="1.3" height="1.3" fill="#a0d0f0"/><rect x="1059.0" y="331.0" width="1.3" height="1.3" fill="#90c0e8"/><rect x="1067.0" y="329.9" width="1.3" height="1.3" fill="#a0d0f0"/><rect x="1070.9" y="333.1" width="1.3" height="1.3" fill="#90c0e8"/><rect x="1086.8" y="339.0" width="1.3" height="1.3" fill="#90c0e8"/><rect x="1100.8" y="337.7" width="1.3" height="1.3" fill="#7aa8e0"/><rect x="1099.1" y="337.3" width="1.3" height="1.3" fill="#90c0e8"/><rect x="1087.5" y="338.1" width="1.3" height="1.3" fill="#90c0e8"/><rect x="1108.1" y="342.4" width="1.3" height="1.3" fill="#a0d0f0"/><rect x="1103.7" y="338.7" width="1.3" height="1.3" fill="#90c0e8"/><rect x="1092.0" y="336.5" width="1.3" height="1.3" fill="#7aa8e0"/><rect x="1109.4" y="341.0" width="1.3" height="1.3" fill="#7aa8e0"/><rect x="1099.8" y="338.7" width="1.3" height="1.3" fill="#7aa8e0"/><rect x="1107.6" y="340.1" width="1.3" height="1.3" fill="#90c0e8"/><rect x="1100.8" y="337.9" width="1.3" height="1.3" fill="#a0d0f0"/><rect x="1099.8" y="340.6" width="1.3" height="1.3" fill="#a0d0f0"/><rect x="1114.9" y="340.7" width="1.3" height="1.3" fill="#a0d0f0"/><rect x="1134.9" y="334.5" width="1.3" height="1.3" fill="#5a88d0"/><rect x="1113.3" y="341.1" width="1.3" height="1.3" fill="#90c0e8"/><rect x="1111.2" y="340.4" width="1.3" height="1.3" fill="#7aa8e0"/><rect x="1127.6" y="336.1" width="1.3" height="1.3" fill="#a0d0f0"/><rect x="1125.7" y="335.8" width="1.3" height="1.3" fill="#5a88d0"/><rect x="1127.1" y="336.4" width="1.3" height="1.3" fill="#90c0e8"/><rect x="1121.1" y="336.8" width="1.3" height="1.3" fill="#a0d0f0"/><rect x="1123.4" y="338.1" width="1.3" height="1.3" fill="#7aa8e0"/><rect x="1126.3" y="335.9" width="1.3" height="1.3" fill="#90c0e8"/><rect x="1121.7" y="336.8" width="1.3" height="1.3" fill="#a0d0f0"/><rect x="1131.7" y="332.7" width="1.3" height="1.3" fill="#a0d0f0"/><rect x="1139.4" y="332.9" width="1.3" height="1.3" fill="#a0d0f0"/><rect x="1145.4" y="327.2" width="1.3" height="1.3" fill="#7aa8e0"/><rect x="1137.6" y="333.7" width="1.3" height="1.3" fill="#5a88d0"/><rect x="1156.5" y="323.8" width="1.3" height="1.3" fill="#7aa8e0"/><rect x="1155.2" y="322.6" width="1.3" height="1.3" fill="#90c0e8"/><rect x="1137.3" y="334.1" width="1.3" height="1.3" fill="#7aa8e0"/><rect x="1140.7" y="328.4" width="1.3" height="1.3" fill="#a0d0f0"/><rect x="1143.4" y="328.1" width="1.3" height="1.3" fill="#90c0e8"/><rect x="1153.8" y="324.0" width="1.3" height="1.3" fill="#90c0e8"/><rect x="1138.1" y="332.5" width="1.3" height="1.3" fill="#5a88d0"/><rect x="1139.9" y="329.2" width="1.3" height="1.3" fill="#5a88d0"/><rect x="1160.0" y="322.6" width="1.3" height="1.3" fill="#5a88d0"/><rect x="1172.4" y="310.1" width="1.3" height="1.3" fill="#90c0e8"/><rect x="1175.1" y="309.5" width="1.3" height="1.3" fill="#90c0e8"/><rect x="1170.5" y="316.9" width="1.3" height="1.3" fill="#90c0e8"/><rect x="1170.9" y="313.0" width="1.3" height="1.3" fill="#5a88d0"/><rect x="1176.2" y="306.8" width="1.3" height="1.3" fill="#90c0e8"/><rect x="1180.5" y="306.9" width="1.3" height="1.3" fill="#7aa8e0"/><rect x="1176.8" y="309.6" width="1.3" height="1.3" fill="#a0d0f0"/><rect x="1174.4" y="310.3" width="1.3" height="1.3" fill="#7aa8e0"/><rect x="1167.8" y="316.3" width="1.3" height="1.3" fill="#a0d0f0"/><rect x="1179.0" y="307.6" width="1.3" height="1.3" fill="#a0d0f0"/><rect x="1183.9" y="302.0" width="1.3" height="1.3" fill="#5a88d0"/><rect x="1170.6" y="316.5" width="1.3" height="1.3" fill="#90c0e8"/><rect x="1186.8" y="297.9" width="1.3" height="1.3" fill="#7aa8e0"/><rect x="1189.7" y="296.4" width="1.3" height="1.3" fill="#5a88d0"/><rect x="1194.2" y="288.5" width="1.3" height="1.3" fill="#5a88d0"/><rect x="1196.8" y="287.5" width="1.3" height="1.3" fill="#90c0e8"/><rect x="1186.7" y="298.9" width="1.3" height="1.3" fill="#a0d0f0"/><rect x="1192.5" y="294.6" width="1.3" height="1.3" fill="#7aa8e0"/><rect x="1187.7" y="300.5" width="1.3" height="1.3" fill="#7aa8e0"/><rect x="1186.4" y="303.4" width="1.3" height="1.3" fill="#5a88d0"/><rect x="1189.8" y="296.3" width="1.3" height="1.3" fill="#90c0e8"/><rect x="1192.6" y="294.9" width="1.3" height="1.3" fill="#90c0e8"/><rect x="1187.7" y="297.8" width="1.3" height="1.3" fill="#a0d0f0"/><rect x="1188.9" y="300.7" width="1.3" height="1.3" fill="#90c0e8"/><rect x="1211.8" y="267.6" width="1.3" height="1.3" fill="#7aa8e0"/><rect x="1208.9" y="268.1" width="1.3" height="1.3" fill="#5a88d0"/><rect x="1208.8" y="274.9" width="1.3" height="1.3" fill="#7aa8e0"/><rect x="1201.9" y="281.0" width="1.3" height="1.3" fill="#5a88d0"/><rect x="1209.7" y="269.8" width="1.3" height="1.3" fill="#a0d0f0"/><rect x="1203.9" y="276.6" width="1.3" height="1.3" fill="#7aa8e0"/><rect x="1205.5" y="283.2" width="1.3" height="1.3" fill="#90c0e8"/><rect x="1207.6" y="279.1" width="1.3" height="1.3" fill="#7aa8e0"/><rect x="1202.6" y="282.8" width="1.3" height="1.3" fill="#90c0e8"/><rect x="1205.8" y="280.9" width="1.3" height="1.3" fill="#a0d0f0"/><rect x="1214.5" y="265.8" width="1.3" height="1.3" fill="#5a88d0"/><rect x="1202.9" y="281.4" width="1.3" height="1.3" fill="#a0d0f0"/><rect x="1224.4" y="243.0" width="1.3" height="1.3" fill="#a0d0f0"/><rect x="1222.1" y="241.7" width="1.3" height="1.3" fill="#a0d0f0"/><rect x="1214.1" y="255.5" width="1.3" height="1.3" fill="#5a88d0"/><rect x="1219.8" y="255.7" width="1.3" height="1.3" fill="#5a88d0"/><rect x="1220.7" y="237.5" width="1.3" height="1.3" fill="#5a88d0"/><rect x="1222.9" y="242.8" width="1.3" height="1.3" fill="#a0d0f0"/><rect x="1219.0" y="242.8" width="1.3" height="1.3" fill="#5a88d0"/><rect x="1215.6" y="252.6" width="1.3" height="1.3" fill="#90c0e8"/><rect x="1216.0" y="258.7" width="1.3" height="1.3" fill="#90c0e8"/><rect x="1219.0" y="254.6" width="1.3" height="1.3" fill="#90c0e8"/><rect x="1222.2" y="236.3" width="1.3" height="1.3" fill="#5a88d0"/><rect x="1217.5" y="256.2" width="1.3" height="1.3" fill="#90c0e8"/><rect x="1221.3" y="228.0" width="1.3" height="1.3" fill="#a0d0f0"/><rect x="1223.0" y="226.4" width="1.3" height="1.3" fill="#7aa8e0"/><rect x="1222.7" y="219.3" width="1.3" height="1.3" fill="#90c0e8"/><rect x="1224.1" y="224.6" width="1.3" height="1.3" fill="#90c0e8"/><rect x="1222.8" y="227.8" width="1.3" height="1.3" fill="#90c0e8"/><rect x="1226.6" y="232.7" width="1.3" height="1.3" fill="#7aa8e0"/><rect x="1224.8" y="223.6" width="1.3" height="1.3" fill="#90c0e8"/><rect x="1225.5" y="222.2" width="1.3" height="1.3" fill="#90c0e8"/><rect x="1221.9" y="222.3" width="1.3" height="1.3" fill="#7aa8e0"/><rect x="1225.2" y="221.5" width="1.3" height="1.3" fill="#5a88d0"/><rect x="1221.0" y="231.2" width="1.3" height="1.3" fill="#7aa8e0"/><rect x="1220.7" y="218.9" width="1.3" height="1.3" fill="#a0d0f0"/><rect x="1223.0" y="213.8" width="1.3" height="1.3" fill="#7aa8e0"/><rect x="1219.0" y="215.9" width="1.3" height="1.3" fill="#7aa8e0"/><rect x="1214.9" y="195.7" width="1.3" height="1.3" fill="#5a88d0"/><rect x="1220.6" y="204.1" width="1.3" height="1.3" fill="#90c0e8"/><rect x="1220.7" y="209.0" width="1.3" height="1.3" fill="#5a88d0"/><rect x="1223.3" y="216.0" width="1.3" height="1.3" fill="#5a88d0"/><rect x="1220.1" y="215.5" width="1.3" height="1.3" fill="#5a88d0"/><rect x="1215.5" y="197.1" width="1.3" height="1.3" fill="#a0d0f0"/><rect x="1214.8" y="195.1" width="1.3" height="1.3" fill="#7aa8e0"/><rect x="1218.8" y="195.8" width="1.3" height="1.3" fill="#7aa8e0"/><rect x="1218.1" y="207.9" width="1.3" height="1.3" fill="#90c0e8"/><rect x="1214.6" y="198.8" width="1.3" height="1.3" fill="#5a88d0"/><rect x="1216.0" y="185.7" width="1.3" height="1.3" fill="#90c0e8"/><rect x="1210.8" y="184.2" width="1.3" height="1.3" fill="#7aa8e0"/><rect x="1214.4" y="190.9" width="1.3" height="1.3" fill="#a0d0f0"/><rect x="1207.5" y="174.1" width="1.3" height="1.3" fill="#a0d0f0"/><rect x="1207.5" y="177.0" width="1.3" height="1.3" fill="#5a88d0"/><rect x="1212.1" y="175.3" width="1.3" height="1.3" fill="#90c0e8"/><rect x="1209.0" y="166.1" width="1.3" height="1.3" fill="#90c0e8"/><rect x="1212.7" y="188.5" width="1.3" height="1.3" fill="#7aa8e0"/><rect x="1208.0" y="179.7" width="1.3" height="1.3" fill="#7aa8e0"/><rect x="1210.6" y="174.5" width="1.3" height="1.3" fill="#a0d0f0"/><rect x="1205.5" y="168.4" width="1.3" height="1.3" fill="#7aa8e0"/><rect x="1210.5" y="180.6" width="1.3" height="1.3" fill="#5a88d0"/><rect x="1205.0" y="160.4" width="1.3" height="1.3" fill="#90c0e8"/><rect x="1199.0" y="159.1" width="1.3" height="1.3" fill="#90c0e8"/><rect x="1193.3" y="144.7" width="1.3" height="1.3" fill="#7aa8e0"/><rect x="1202.3" y="157.7" width="1.3" height="1.3" fill="#90c0e8"/><rect x="1193.1" y="147.7" width="1.3" height="1.3" fill="#5a88d0"/><rect x="1204.7" y="161.7" width="1.3" height="1.3" fill="#5a88d0"/><rect x="1199.4" y="152.2" width="1.3" height="1.3" fill="#a0d0f0"/><rect x="1195.6" y="153.2" width="1.3" height="1.3" fill="#90c0e8"/><rect x="1201.4" y="160.9" width="1.3" height="1.3" fill="#90c0e8"/><rect x="1193.0" y="152.7" width="1.3" height="1.3" fill="#5a88d0"/><rect x="1197.9" y="152.6" width="1.3" height="1.3" fill="#90c0e8"/><rect x="1203.3" y="157.6" width="1.3" height="1.3" fill="#7aa8e0"/><rect x="1186.4" y="142.5" width="1.3" height="1.3" fill="#90c0e8"/><rect x="1180.4" y="139.6" width="1.3" height="1.3" fill="#5a88d0"/><rect x="1175.0" y="129.9" width="1.3" height="1.3" fill="#90c0e8"/><rect x="1186.5" y="144.8" width="1.3" height="1.3" fill="#5a88d0"/><rect x="1186.7" y="140.5" width="1.3" height="1.3" fill="#7aa8e0"/><rect x="1188.8" y="146.5" width="1.3" height="1.3" fill="#a0d0f0"/><rect x="1175.6" y="131.0" width="1.3" height="1.3" fill="#5a88d0"/><rect x="1182.0" y="134.0" width="1.3" height="1.3" fill="#a0d0f0"/><rect x="1191.7" y="144.0" width="1.3" height="1.3" fill="#a0d0f0"/><rect x="1175.2" y="131.3" width="1.3" height="1.3" fill="#a0d0f0"/><rect x="1171.8" y="128.7" width="1.3" height="1.3" fill="#90c0e8"/><rect x="1175.4" y="132.0" width="1.3" height="1.3" fill="#a0d0f0"/><rect x="1160.1" y="117.7" width="1.3" height="1.3" fill="#7aa8e0"/><rect x="1149.8" y="111.4" width="1.3" height="1.3" fill="#a0d0f0"/><rect x="1153.0" y="115.9" width="1.3" height="1.3" fill="#5a88d0"/><rect x="1150.4" y="113.3" width="1.3" height="1.3" fill="#7aa8e0"/><rect x="1155.5" y="115.9" width="1.3" height="1.3" fill="#90c0e8"/><rect x="1149.7" y="111.8" width="1.3" height="1.3" fill="#7aa8e0"/><rect x="1160.5" y="119.5" width="1.3" height="1.3" fill="#7aa8e0"/><rect x="1168.0" y="124.4" width="1.3" height="1.3" fill="#90c0e8"/><rect x="1152.3" y="117.6" width="1.3" height="1.3" fill="#90c0e8"/><rect x="1158.5" y="115.7" width="1.3" height="1.3" fill="#a0d0f0"/><rect x="1156.6" y="118.6" width="1.3" height="1.3" fill="#7aa8e0"/><rect x="1154.2" y="117.9" width="1.3" height="1.3" fill="#5a88d0"/><rect x="1138.9" y="110.6" width="1.3" height="1.3" fill="#90c0e8"/><rect x="1129.0" y="101.9" width="1.3" height="1.3" fill="#7aa8e0"/><rect x="1133.5" y="106.2" width="1.3" height="1.3" fill="#7aa8e0"/><rect x="1142.5" y="108.7" width="1.3" height="1.3" fill="#7aa8e0"/><rect x="1146.9" y="110.8" width="1.3" height="1.3" fill="#a0d0f0"/><rect x="1135.2" y="107.4" width="1.3" height="1.3" fill="#5a88d0"/><rect x="1145.3" y="109.4" width="1.3" height="1.3" fill="#a0d0f0"/><rect x="1129.7" y="104.1" width="1.3" height="1.3" fill="#90c0e8"/><rect x="1128.3" y="106.0" width="1.3" height="1.3" fill="#a0d0f0"/><rect x="1143.7" y="107.7" width="1.3" height="1.3" fill="#7aa8e0"/><rect x="1132.0" y="105.7" width="1.3" height="1.3" fill="#a0d0f0"/><rect x="1134.9" y="107.5" width="1.3" height="1.3" fill="#90c0e8"/><rect x="1120.7" y="103.7" width="1.3" height="1.3" fill="#a0d0f0"/><rect x="1118.2" y="101.7" width="1.3" height="1.3" fill="#90c0e8"/><rect x="1111.2" y="102.2" width="1.3" height="1.3" fill="#90c0e8"/><rect x="1122.7" y="102.4" width="1.3" height="1.3" fill="#5a88d0"/><rect x="1106.7" y="102.9" width="1.3" height="1.3" fill="#a0d0f0"/><rect x="1128.4" y="104.7" width="1.3" height="1.3" fill="#5a88d0"/><rect x="1120.5" y="103.8" width="1.3" height="1.3" fill="#5a88d0"/><rect x="1117.9" y="102.4" width="1.3" height="1.3" fill="#7aa8e0"/><rect x="1113.9" y="101.8" width="1.3" height="1.3" fill="#5a88d0"/><rect x="1109.5" y="99.9" width="1.3" height="1.3" fill="#5a88d0"/><rect x="1111.1" y="100.4" width="1.3" height="1.3" fill="#5a88d0"/><rect x="1114.5" y="100.0" width="1.3" height="1.3" fill="#7aa8e0"/>
<ellipse cx="1106" cy="267" rx="12" ry="11" fill="#7cb0e0" opacity="0.9" filter="url(#b2)"/>
<ellipse cx="1072" cy="236" rx="8" ry="8" fill="#90c8d0" opacity="0.5" filter="url(#b2)"/>
<path d="M1078.8,201.8 L1080.2,193.2 L1086.0,190.3 L1093.2,191.8 L1099.0,193.2 L1104.7,191.8 L1107.6,186.0 L1109.0,175.9 L1113.4,173.0 L1119.1,175.9 L1124.9,178.8 L1130.6,183.1 L1136.4,188.9 L1137.8,194.6 L1133.5,200.4 L1122.0,203.3 L1117.7,206.2 L1117.7,211.9 L1111.9,216.2 L1104.7,217.0 L1093.2,216.2 L1081.7,214.8 L1078.8,210.5 Z" fill="#fff" stroke="#fff" stroke-width="0.8" stroke-linejoin="bevel"/>
<path d="M1070.2,220.6 L1075.9,220.6 L1083.1,226.3 L1087.4,233.5 L1088.9,242.2 L1086.0,249.4 L1080.2,249.4 L1078.8,242.2 L1075.9,236.4 L1071.6,226.3 Z" fill="#fff" stroke="#fff" stroke-width="0.8" stroke-linejoin="bevel"/>
<path d="M1110.5,230.6 L1113.4,224.9 L1122.0,221.3 L1130.6,220.6 L1139.3,223.4 L1143.6,229.2 L1139.3,233.5 L1133.5,239.3 L1127.8,243.6 L1119.1,245.0 L1113.4,242.2 L1110.5,236.4 Z" fill="#fff" stroke="#fff" stroke-width="0.8" stroke-linejoin="bevel"/>
<path d="M1083.1,260.9 L1087.4,253.7 L1093.2,249.4 L1101.8,246.5 L1110.5,246.5 L1117.7,249.4 L1123.4,255.1 L1127.8,263.8 L1129.2,272.4 L1127.8,279.6 L1122.0,286.8 L1119.1,285.4 L1122.0,276.7 L1122.0,268.1 L1119.1,260.9 L1113.4,256.6 L1106.2,255.1 L1099.0,256.6 L1091.8,259.4 L1086.0,263.8 Z" fill="#fff" stroke="#fff" stroke-width="0.8" stroke-linejoin="bevel"/>
<path d="M1071.6,177.4 L1064,181 L1061,187 L1060,193.2 L1061,199 L1063,203.3 L1068.7,205" stroke="#fff" stroke-width="2.6" fill="none" stroke-linejoin="bevel"/>
<path d="M1074.5,168.7 L1081.7,165.8 L1087.4,163 L1093.2,164.4" stroke="#fff" stroke-width="2.4" fill="none"/>
<path d="M1108,168 L1112,166.5 L1116,169 L1112,173 Z" fill="#fff"/>
<circle cx="1064.4" cy="210.5" r="1.3" fill="#fff"/>
<ellipse cx="1099" cy="209" rx="2.8" ry="2.2" fill="#5a8ad8"/>
<ellipse cx="1123.4" cy="233.5" rx="3" ry="2.6" fill="#5a8ad8"/>
<ellipse cx="1120.6" cy="187.4" rx="2.2" ry="2.4" fill="#70a0d8"/>
<path d="M1107.6,193.5 L1114.8,201.5" stroke="#88a040" stroke-width="2.6" stroke-linecap="round"/>
<rect x="833" y="46.5" width="512" height="3.6" fill="#6e6e6a"/>
<rect x="833" y="46.5" width="3.9" height="402" fill="#6e6e6a"/>
<rect x="831.3" y="46.5" width="1.8" height="403" fill="#151515"/>
<rect x="1343" y="48" width="2" height="400" fill="#d8d8d8"/>
<rect x="833" y="447" width="512" height="2.5" fill="#1a1a1a"/>
<rect x="821" y="447.30" width="10.5" height="2" fill="#1a1a1a"/>
<rect x="821" y="402.53" width="10.5" height="2" fill="#1a1a1a"/>
<rect x="821" y="357.75" width="10.5" height="2" fill="#1a1a1a"/>
<rect x="821" y="312.98" width="10.5" height="2" fill="#1a1a1a"/>
<rect x="821" y="268.20" width="10.5" height="2" fill="#1a1a1a"/>
<rect x="821" y="223.43" width="10.5" height="2" fill="#1a1a1a"/>
<rect x="821" y="178.65" width="10.5" height="2" fill="#1a1a1a"/>
<rect x="821" y="133.88" width="10.5" height="2" fill="#1a1a1a"/>
<rect x="821" y="89.10" width="10.5" height="2" fill="#1a1a1a"/>
<rect x="821" y="49.70" width="10.5" height="2" fill="#1a1a1a"/>
<text class="lbl" x="794.10" y="456.20" font-size="20.02" font-weight="normal" fill="#111" textLength="10.70" lengthAdjust="spacingAndGlyphs" stroke="#111" stroke-width="0.55">0</text>
<text class="lbl" x="770.60" y="366.30" font-size="20.02" font-weight="normal" fill="#111" textLength="34.20" lengthAdjust="spacingAndGlyphs" stroke="#111" stroke-width="0.55">100</text>
<text class="lbl" x="769.50" y="276.50" font-size="20.02" font-weight="normal" fill="#111" textLength="35.30" lengthAdjust="spacingAndGlyphs" stroke="#111" stroke-width="0.55">200</text>
<text class="lbl" x="769.50" y="187.90" font-size="20.02" font-weight="normal" fill="#111" textLength="35.30" lengthAdjust="spacingAndGlyphs" stroke="#111" stroke-width="0.55">300</text>
<text class="lbl" x="769.50" y="57.80" font-size="19.49" font-weight="normal" fill="#111" textLength="36.50" lengthAdjust="spacingAndGlyphs" stroke="#111" stroke-width="0.55">444</text>
<rect x="835.00" y="449" width="2" height="16" fill="#222"/>
<rect x="878.51" y="449" width="2" height="16" fill="#222"/>
<rect x="922.02" y="449" width="2" height="16" fill="#222"/>
<rect x="965.53" y="449" width="2" height="16" fill="#222"/>
<rect x="1009.04" y="449" width="2" height="16" fill="#222"/>
<rect x="1052.55" y="449" width="2" height="16" fill="#222"/>
<rect x="1096.06" y="449" width="2" height="16" fill="#222"/>
<rect x="1139.57" y="449" width="2" height="16" fill="#222"/>
<rect x="1183.08" y="449" width="2" height="16" fill="#222"/>
<rect x="1226.59" y="449" width="2" height="16" fill="#222"/>
<rect x="1270.10" y="449" width="2" height="16" fill="#222"/>
<rect x="1313.61" y="449" width="2" height="16" fill="#222"/>
<rect x="1343.20" y="449" width="2" height="16" fill="#222"/>
<text class="lbl" x="827.40" y="504.50" font-size="20.02" font-weight="normal" fill="#111" textLength="13.70" lengthAdjust="spacingAndGlyphs" stroke="#111" stroke-width="0.55">0</text>
<text class="lbl" x="903.00" y="504.50" font-size="20.02" font-weight="normal" fill="#111" textLength="35.50" lengthAdjust="spacingAndGlyphs" stroke="#111" stroke-width="0.55">100</text>
<text class="lbl" x="990.10" y="504.50" font-size="20.02" font-weight="normal" fill="#111" textLength="35.30" lengthAdjust="spacingAndGlyphs" stroke="#111" stroke-width="0.55">200</text>
<text class="lbl" x="1076.90" y="504.50" font-size="20.02" font-weight="normal" fill="#111" textLength="35.40" lengthAdjust="spacingAndGlyphs" stroke="#111" stroke-width="0.55">300</text>
<text class="lbl" x="1166.20" y="504.50" font-size="20.02" font-weight="normal" fill="#111" textLength="34.40" lengthAdjust="spacingAndGlyphs" stroke="#111" stroke-width="0.55">400</text>
<text class="lbl" x="1252.00" y="504.50" font-size="20.02" font-weight="normal" fill="#111" textLength="34.60" lengthAdjust="spacingAndGlyphs" stroke="#111" stroke-width="0.55">500</text>
<text class="lbl" x="1324.50" y="504.50" font-size="20.02" font-weight="normal" fill="#111" textLength="35.40" lengthAdjust="spacingAndGlyphs" stroke="#111" stroke-width="0.55">584</text>
<text class="lbl" x="832.20" y="44.70" font-size="18.97" font-weight="bold" fill="#111" textLength="28.00" lengthAdjust="spacingAndGlyphs" >um</text>
<text class="lbl" x="1349.90" y="442.40" font-size="18.32" font-weight="bold" fill="#111" textLength="27.20" lengthAdjust="spacingAndGlyphs" >um</text>
<rect x="836" y="217.4" width="508" height="2.3" fill="#d41818"/>
<rect x="852" y="68" width="52" height="35" fill="#fff"/>
<text class="lbl serif" x="857.30" y="95.40" font-size="28.43" fill="#111" textLength="37.40" lengthAdjust="spacingAndGlyphs" >(b)</text>
<rect x="310" y="546" width="869" height="413.5" fill="#fefaec"/>
<rect x="310" y="922.55" width="869" height="1.6" fill="#d6d4cc"/>
<rect x="310" y="877.45" width="869" height="1.6" fill="#d6d4cc"/>
<rect x="310" y="830.35" width="869" height="1.6" fill="#d6d4cc"/>
<rect x="310" y="785.25" width="869" height="1.6" fill="#d6d4cc"/>
<rect x="310" y="740.05" width="869" height="1.6" fill="#d6d4cc"/>
<rect x="310" y="694.05" width="869" height="1.6" fill="#d6d4cc"/>
<rect x="310" y="648.95" width="869" height="1.6" fill="#d6d4cc"/>
<rect x="310" y="603.85" width="869" height="1.6" fill="#d6d4cc"/>
<rect x="310" y="558.95" width="869" height="1.6" fill="#d6d4cc"/>
<rect x="456.45" y="546" width="1.6" height="413.5" fill="#d6d4cc"/>
<rect x="605.65" y="546" width="1.6" height="413.5" fill="#d6d4cc"/>
<rect x="754.55" y="546" width="1.6" height="413.5" fill="#d6d4cc"/>
<rect x="903.05" y="546" width="1.6" height="413.5" fill="#d6d4cc"/>
<rect x="1050.05" y="546" width="1.6" height="413.5" fill="#d6d4cc"/>
<rect x="308.5" y="544.5" width="872" height="2.2" fill="#333"/>
<rect x="308.5" y="959" width="872" height="2.4" fill="#333"/>
<rect x="308.5" y="544.5" width="2.2" height="416" fill="#333"/>
<rect x="1177.5" y="544.5" width="2.2" height="416" fill="#333"/>
<rect x="298.5" y="956.23" width="10.5" height="1.8" fill="#222"/>
<rect x="298.5" y="944.95" width="10.5" height="1.8" fill="#222"/>
<rect x="298.5" y="933.67" width="10.5" height="1.8" fill="#222"/>
<rect x="292" y="922.40" width="17" height="1.8" fill="#222"/>
<rect x="298.5" y="911.12" width="10.5" height="1.8" fill="#222"/>
<rect x="298.5" y="899.85" width="10.5" height="1.8" fill="#222"/>
<rect x="298.5" y="888.58" width="10.5" height="1.8" fill="#222"/>
<rect x="292" y="877.30" width="17" height="1.8" fill="#222"/>
<rect x="298.5" y="865.53" width="10.5" height="1.8" fill="#222"/>
<rect x="298.5" y="853.75" width="10.5" height="1.8" fill="#222"/>
<rect x="298.5" y="841.98" width="10.5" height="1.8" fill="#222"/>
<rect x="292" y="830.20" width="17" height="1.8" fill="#222"/>
<rect x="298.5" y="818.93" width="10.5" height="1.8" fill="#222"/>
<rect x="298.5" y="807.65" width="10.5" height="1.8" fill="#222"/>
<rect x="298.5" y="796.38" width="10.5" height="1.8" fill="#222"/>
<rect x="292" y="785.10" width="17" height="1.8" fill="#222"/>
<rect x="298.5" y="773.80" width="10.5" height="1.8" fill="#222"/>
<rect x="298.5" y="762.50" width="10.5" height="1.8" fill="#222"/>
<rect x="298.5" y="751.20" width="10.5" height="1.8" fill="#222"/>
<rect x="292" y="739.90" width="17" height="1.8" fill="#222"/>
<rect x="298.5" y="728.40" width="10.5" height="1.8" fill="#222"/>
<rect x="298.5" y="716.90" width="10.5" height="1.8" fill="#222"/>
<rect x="298.5" y="705.40" width="10.5" height="1.8" fill="#222"/>
<rect x="292" y="693.90" width="17" height="1.8" fill="#222"/>
<rect x="298.5" y="682.62" width="10.5" height="1.8" fill="#222"/>
<rect x="298.5" y="671.35" width="10.5" height="1.8" fill="#222"/>
<rect x="298.5" y="660.08" width="10.5" height="1.8" fill="#222"/>
<rect x="292" y="648.80" width="17" height="1.8" fill="#222"/>
<rect x="298.5" y="637.53" width="10.5" height="1.8" fill="#222"/>
<rect x="298.5" y="626.25" width="10.5" height="1.8" fill="#222"/>
<rect x="298.5" y="614.98" width="10.5" height="1.8" fill="#222"/>
<rect x="292" y="603.70" width="17" height="1.8" fill="#222"/>
<rect x="298.5" y="592.48" width="10.5" height="1.8" fill="#222"/>
<rect x="298.5" y="581.25" width="10.5" height="1.8" fill="#222"/>
<rect x="298.5" y="570.03" width="10.5" height="1.8" fill="#222"/>
<rect x="292" y="558.80" width="17" height="1.8" fill="#222"/>
<rect x="298.5" y="547.58" width="10.5" height="1.8" fill="#222"/>
<text class="lbl" x="277.50" y="928.50" font-size="14.85" font-weight="normal" fill="#3a3a3a" textLength="12.20" lengthAdjust="spacingAndGlyphs" stroke="#3a3a3a" stroke-width="0.35">-5</text>
<text class="lbl" x="282.00" y="883.20" font-size="14.85" font-weight="normal" fill="#3a3a3a" textLength="7.70" lengthAdjust="spacingAndGlyphs" stroke="#3a3a3a" stroke-width="0.35">0</text>
<text class="lbl" x="281.50" y="836.90" font-size="14.85" font-weight="normal" fill="#3a3a3a" textLength="8.20" lengthAdjust="spacingAndGlyphs" stroke="#3a3a3a" stroke-width="0.35">5</text>
<text class="lbl" x="277.90" y="791.60" font-size="14.85" font-weight="normal" fill="#3a3a3a" textLength="11.80" lengthAdjust="spacingAndGlyphs" stroke="#3a3a3a" stroke-width="0.35">10</text>
<text class="lbl" x="277.90" y="746.00" font-size="14.85" font-weight="normal" fill="#3a3a3a" textLength="11.80" lengthAdjust="spacingAndGlyphs" stroke="#3a3a3a" stroke-width="0.35">15</text>
<text class="lbl" x="275.50" y="700.00" font-size="14.85" font-weight="normal" fill="#3a3a3a" textLength="14.20" lengthAdjust="spacingAndGlyphs" stroke="#3a3a3a" stroke-width="0.35">20</text>
<text class="lbl" x="275.50" y="654.70" font-size="14.85" font-weight="normal" fill="#3a3a3a" textLength="14.20" lengthAdjust="spacingAndGlyphs" stroke="#3a3a3a" stroke-width="0.35">25</text>
<text class="lbl" x="275.50" y="610.40" font-size="14.85" font-weight="normal" fill="#3a3a3a" textLength="14.20" lengthAdjust="spacingAndGlyphs" stroke="#3a3a3a" stroke-width="0.35">30</text>
<text class="lbl" x="275.50" y="564.70" font-size="14.85" font-weight="normal" fill="#3a3a3a" textLength="14.20" lengthAdjust="spacingAndGlyphs" stroke="#3a3a3a" stroke-width="0.35">35</text>
<rect x="309.10" y="960" width="1.8" height="9.5" fill="#222"/>
<rect x="345.90" y="960" width="1.8" height="6" fill="#222"/>
<rect x="382.70" y="960" width="1.8" height="6" fill="#222"/>
<rect x="419.50" y="960" width="1.8" height="6" fill="#222"/>
<rect x="456.30" y="960" width="1.8" height="9.5" fill="#222"/>
<rect x="493.60" y="960" width="1.8" height="6" fill="#222"/>
<rect x="530.90" y="960" width="1.8" height="6" fill="#222"/>
<rect x="568.20" y="960" width="1.8" height="6" fill="#222"/>
<rect x="605.50" y="960" width="1.8" height="9.5" fill="#222"/>
<rect x="642.73" y="960" width="1.8" height="6" fill="#222"/>
<rect x="679.95" y="960" width="1.8" height="6" fill="#222"/>
<rect x="717.17" y="960" width="1.8" height="6" fill="#222"/>
<rect x="754.40" y="960" width="1.8" height="9.5" fill="#222"/>
<rect x="791.52" y="960" width="1.8" height="6" fill="#222"/>
<rect x="828.65" y="960" width="1.8" height="6" fill="#222"/>
<rect x="865.77" y="960" width="1.8" height="6" fill="#222"/>
<rect x="902.90" y="960" width="1.8" height="9.5" fill="#222"/>
<rect x="939.65" y="960" width="1.8" height="6" fill="#222"/>
<rect x="976.40" y="960" width="1.8" height="6" fill="#222"/>
<rect x="1013.15" y="960" width="1.8" height="6" fill="#222"/>
<rect x="1049.90" y="960" width="1.8" height="9.5" fill="#222"/>
<rect x="1086.95" y="960" width="1.8" height="6" fill="#222"/>
<rect x="1124.00" y="960" width="1.8" height="6" fill="#222"/>
<rect x="1161.06" y="960" width="1.8" height="6" fill="#222"/>
<text class="lbl" x="305.40" y="985.80" font-size="17.99" font-weight="normal" fill="#222" textLength="8.70" lengthAdjust="spacingAndGlyphs" stroke="#222" stroke-width="0.45">0</text>
<text class="lbl" x="445.50" y="985.80" font-size="17.99" font-weight="normal" fill="#222" textLength="22.00" lengthAdjust="spacingAndGlyphs" stroke="#222" stroke-width="0.45">100</text>
<text class="lbl" x="592.20" y="985.80" font-size="17.99" font-weight="normal" fill="#222" textLength="26.50" lengthAdjust="spacingAndGlyphs" stroke="#222" stroke-width="0.45">200</text>
<text class="lbl" x="741.10" y="985.80" font-size="17.99" font-weight="normal" fill="#222" textLength="26.60" lengthAdjust="spacingAndGlyphs" stroke="#222" stroke-width="0.45">300</text>
<text class="lbl" x="891.30" y="985.80" font-size="17.99" font-weight="normal" fill="#222" textLength="26.20" lengthAdjust="spacingAndGlyphs" stroke="#222" stroke-width="0.45">400</text>
<text class="lbl" x="1038.40" y="985.80" font-size="17.99" font-weight="normal" fill="#222" textLength="26.30" lengthAdjust="spacingAndGlyphs" stroke="#222" stroke-width="0.45">500</text>
<text class="lbl" x="308.90" y="540.10" font-size="18.42" font-weight="bold" fill="#222" textLength="25.10" lengthAdjust="spacingAndGlyphs" >um</text>
<text class="lbl" x="1187.10" y="954.50" font-size="19.52" font-weight="bold" fill="#222" textLength="26.10" lengthAdjust="spacingAndGlyphs" >um</text>
<polygon points="1162.6,525.6 1194,525.6 1178.3,541.3" fill="#000"/>
<path d="M309.0,911.5 L320.0,912.0 L322.0,913.0 L329.0,911.0 L331.0,912.9 L358.2,912.9 L359.7,915.0 L363.2,912.6 L369.2,914.6 L371.2,915.0 L420.3,915.0 L423.4,917.0 L427.4,914.6 L430.4,916.6 L438.4,916.6 L441.4,914.6 L444.4,916.0 L449.3,914.0 L453.5,916.6 L462.9,914.5 L466.0,916.6 L477.4,916.6 L479.5,918.7 L483.6,916.6 L488.8,917.7 L498.2,918.7 L506.5,918.7 L514.8,918.7 L523.1,916.6 L529.3,917.7 L538.7,918.7 L541.8,916.6 L548.0,918.7 L562.6,918.7 L567.8,920.3 L571.4,917.7 L573.5,914.5 L577.1,918.2" fill="none" stroke="#e01818" stroke-width="1.8" stroke-linejoin="round" stroke-linecap="round"/>
<path d="M588.3,797.7 L590.9,791.7 L591.5,773.9 L593.9,771.9 L595.5,758.0 L597.9,756.0 L598.9,743.1 L601.4,747.0 L602.2,733.1 L603.4,741.1 L604.8,732.1 L606.2,737.1 L607.8,731.2 L609.8,727.2 L611.4,724.2 L613.8,727.2 L615.8,729.2 L617.7,722.2 L621.7,721.2 L625.7,723.6 L629.7,720.2 L635.6,718.2 L641.6,716.3 L645.5,716.3 L651.5,712.3 L655.5,709.7 L661.4,709.3 L665.4,707.7 L671.4,704.3 L677.3,700.4 L682.3,695.4 L687.2,687.5 L691.2,680.5 L695.2,671.6 L699.2,666.6 L703.1,664.6 L705.5,657.7 L708.1,647.7 L711.1,644.8 L715.1,639.8 L716.6,622.9 L717.4,637.8 L719.0,629.9 L721.0,639.8 L722.6,631.8 L725.0,634.8 L727.0,640.8 L729.0,644.8 L731.9,637.8 L733.9,631.8 L735.3,637.8 L736.9,628.9" fill="none" stroke="#e01818" stroke-width="1.8" stroke-linejoin="round" stroke-linecap="round"/>
<path d="M774.2,597.1 L775.3,593.1 L777.7,589.2 L780.1,587.6 L782.5,588.4 L784.9,590.8 L787.2,597.9 L788.8,599.5 L790.1,594.7 L791.2,589.2 L793.6,586.0 L796.8,583.6 L799.2,580.4 L801.5,577.2" fill="none" stroke="#e01818" stroke-width="1.8" stroke-linejoin="round" stroke-linecap="round"/>
<path d="M805.0,573.5 L806.0,571.8" fill="none" stroke="#e01818" stroke-width="1.8" stroke-linejoin="round" stroke-linecap="round"/>
<path d="M808.7,564.5 L811.1,570.9 L812.7,577.2 L815.1,580.4 L819.0,580.7 L822.2,578.8 L825.4,576.5 L827.8,576.5 L830.2,578.8 L832.5,583.6 L834.9,579.6 L837.3,581.2 L839.7,588.4 L842.9,594.7 L846.0,604.3 L849.2,615.4 L852.4,626.5 L855.6,634.5 L858.8,642.4 L861.9,651.9 L865.1,659.9 L868.3,666.2 L873.1,674.2 L877.8,683.7 L882.6,690.1 L887.4,694.8 L892.1,696.4 L895.3,695.6 L897.4,696.1 L899.8,699.1 L902.2,700.9 L904.5,700.9 L908.1,701.5 L911.7,700.5 L914.1,700.5 L917.0,698.5 L919.4,700.3 L922.4,703.8 L924.2,702.0 L926.6,699.7 L929.6,701.5 L933.1,703.8 L936.7,705.6 L939.1,708.0 L941.5,711.0 L945.1,712.2 L947.4,714.6 L949.8,716.9 L951.6,718.1 L953.2,712.8 L953.6,720.5 L954.6,725.3 L955.8,719.3 L957.0,722.9 L956.7,734.8 L957.9,719.3 L958.8,727.7 L960.0,731.3 L961.2,737.2 L962.3,732.4 L962.9,742.0 L963.9,744.4 L963.9,755.1" fill="none" stroke="#e01818" stroke-width="1.8" stroke-linejoin="round" stroke-linecap="round"/>
<path d="M966.8,771.8 L967.1,776.5 L969.5,781.3" fill="none" stroke="#e01818" stroke-width="1.8" stroke-linejoin="round" stroke-linecap="round"/>
<path d="M984.5,914.1 L984.5,920.0 L986.4,921.5 L986.4,930.2 L990.0,933.8 L1002.6,933.8 L1004.9,935.3 L1009.7,934.2 L1012.8,933.0 L1016.0,933.8 L1018.3,935.7 L1041.2,935.7 L1044.3,937.3 L1049.1,935.7 L1053.0,937.3 L1057.0,933.4 L1061.7,937.3 L1068.0,935.7 L1073.5,936.9 L1079.8,938.9 L1084.5,936.9 L1087.1,938.5 L1090.2,937.3 L1102.9,937.7 L1105.2,939.3 L1109.2,936.9 L1113.1,939.3 L1118.6,935.8 L1124.1,939.3 L1127.3,935.4 L1130.4,938.5 L1144.6,938.9 L1147.0,940.9 L1150.1,938.9 L1154.9,939.3 L1158.8,940.5 L1163.5,940.9 L1169.0,938.9 L1173.0,940.1 L1177.7,938.9" fill="none" stroke="#e01818" stroke-width="1.8" stroke-linejoin="round" stroke-linecap="round"/>
<rect x="329" y="561.5" width="65.5" height="43" fill="#fff"/>
<text class="lbl serif" x="344.40" y="591.70" font-size="27.05" fill="#111" textLength="32.20" lengthAdjust="spacingAndGlyphs" >(c)</text>
</svg></body></html>
